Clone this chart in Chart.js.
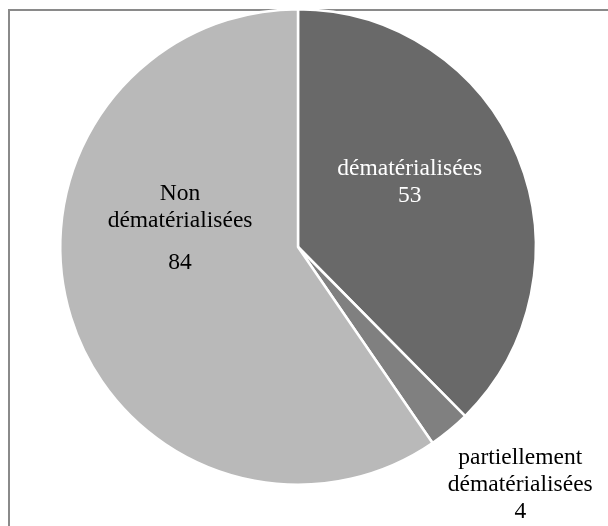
<!DOCTYPE html>
<html>
<head>
<meta charset="utf-8">
<script src="https://cdn.jsdelivr.net/npm/chart.js@4/dist/chart.umd.min.js"></script>
<style>
  html, body { margin: 0; padding: 0; background: #ffffff; }
  #wrap { position: relative; width: 608px; height: 526px; }
</style>
</head>
<body>
<div id="wrap"><canvas id="c" width="608" height="526"></canvas></div>
<script>
// ---- Data ----
const categories = ["dématérialisées", "partiellement dématérialisées", "Non dématérialisées"];
const labelLines = [["dématérialisées"], ["partiellement", "dématérialisées"], ["Non", "dématérialisées"]];
const values = [53, 4, 84];

// ---- Styles ----
const colors = ["#696969", "#808080", "#b9b9b9"];
const textColors = ["#ffffff", "#000000", "#000000"];
// label anchor relative to pie centre, in units of outer radius
const labelAnchors = [
  { fx: 0.47, fy: -0.328, gap: 0 },
  { fx: 0.935, fy: 0.885, gap: 0 },
  { fx: -0.496, fy: -0.225, gap: 15 }
];
const FONT = '23.5px "Liberation Serif", "Times New Roman", serif';
const LINE_H = 27;

const framePlugin = {
  id: 'frame',
  beforeDraw(chart) {
    const ctx = chart.ctx;
    ctx.save();
    ctx.strokeStyle = '#8a8a8a';
    ctx.lineWidth = 2;
    ctx.strokeRect(9, 10, chart.width + 20, chart.height + 20);
    ctx.restore();
  }
};

const labelPlugin = {
  id: 'sliceLabels',
  afterDatasetsDraw(chart) {
    const ctx = chart.ctx;
    const meta = chart.getDatasetMeta(0);
    ctx.save();
    ctx.font = FONT;
    ctx.textAlign = 'center';
    ctx.textBaseline = 'middle';
    meta.data.forEach((arc, i) => {
      const r = arc.outerRadius;
      const a = labelAnchors[i];
      const x = arc.x + a.fx * r;
      let y = arc.y + a.fy * r;
      ctx.fillStyle = textColors[i];
      labelLines[i].forEach(line => {
        ctx.fillText(line, x, y);
        y += LINE_H;
      });
      y += a.gap;
      ctx.fillText(String(values[i]), x, y);
    });
    ctx.restore();
  }
};

new Chart(document.getElementById('c'), {
  type: 'pie',
  data: {
    labels: categories,
    datasets: [{
      data: values,
      backgroundColor: colors,
      borderColor: '#ffffff',
      borderWidth: 2.5
    }]
  },
  options: {
    responsive: false,
    animation: false,
    rotation: 0,
    layout: { padding: { left: 59, right: 71, top: 8, bottom: 40 } },
    plugins: {
      legend: { display: false },
      tooltip: { enabled: false },
      title: { display: false }
    }
  },
  plugins: [framePlugin, labelPlugin]
});
</script>
</body>
</html>
